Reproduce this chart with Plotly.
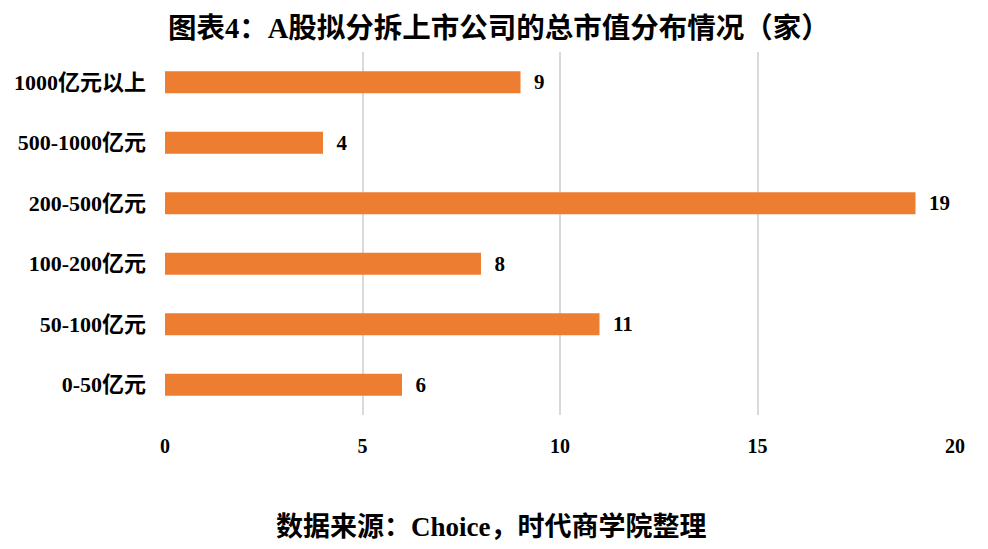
import plotly.graph_objects as go

categories = ["0-50亿元", "50-100亿元", "100-200亿元", "200-500亿元", "500-1000亿元", "1000亿元以上"]
values = [6, 11, 8, 19, 4, 9]
x_ticks = [0, 5, 10, 15, 20]

FONT = "Liberation Serif, 'Times New Roman', 'Noto Sans CJK SC', serif"

fig = go.Figure(go.Bar(
    y=categories, x=values, orientation="h",
    marker=dict(color="#ED7D31", line=dict(width=0)),
    width=0.36,
    text=[str(v) for v in values], textposition="outside",
    texttemplate="  <b>%{text}</b>",
    textfont=dict(family=FONT, size=21, color="#000000"),
    constraintext="none",
    cliponaxis=False,
))

W, H = 988, 549
L, R, T, B = 165, 33, 52, 134

fig.update_layout(
    width=W, height=H,
    margin=dict(l=L, r=R, t=T, b=B, autoexpand=False),
    paper_bgcolor="white", plot_bgcolor="white",
    font=dict(family=FONT, color="#000000"),
    showlegend=False,
    xaxis=dict(range=[0, 20], tickvals=x_ticks, ticktext=[str(t) for t in x_ticks],
               showgrid=True, gridcolor="#D9D9D9", gridwidth=1.5,
               zeroline=False, showline=False, automargin=False,
               tickfont=dict(family=FONT, size=20, color="#000000", weight="bold"),
               ticks="", ticklabelstandoff=17),
    yaxis=dict(categoryorder="array", categoryarray=categories,
               showgrid=False, zeroline=False, showline=False, automargin=False,
               tickfont=dict(family=FONT, size=22, color="#000000", weight="bold"),
               ticks="", ticklabelstandoff=18),
    annotations=[
        dict(text="<b>图表4：A股拟分拆上市公司的总市值分布情况（家）</b>", x=499, y=28,
             xref="paper", yref="paper", showarrow=False,
             font=dict(family=FONT, size=28.5, color="#000000")),
        dict(text="<b>数据来源：Choice，时代商学院整理</b>", x=491, y=527,
             xref="paper", yref="paper", showarrow=False,
             font=dict(family=FONT, size=27, color="#000000")),
    ],
)

for a in fig.layout.annotations:
    px, py = a.x, a.y
    a.x = (px - L) / (W - L - R)
    a.y = 1 - (py - T) / (H - T - B)
    a.xanchor = "center"; a.yanchor = "middle"

fig.write_html("out.html", config={"displayModeBar": False},
               post_script="document.body.style.margin='0px';document.body.style.overflow='hidden';")
